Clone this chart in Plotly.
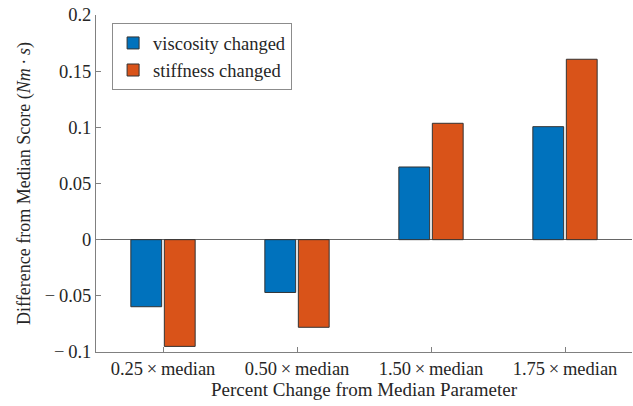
import plotly.graph_objects as go

categories = ["0.25\u2009×\u2009median", "0.50\u2009×\u2009median", "1.50\u2009×\u2009median", "1.75\u2009×\u2009median"]
viscosity = [-0.0597, -0.047, 0.0647, 0.1006]
stiffness = [-0.095, -0.078, 0.1036, 0.1606]
y_ticks = [-0.1, -0.05, 0, 0.05, 0.1, 0.15, 0.2]
y_tick_text = ["\u2212\u20090.1", "\u2212\u20090.05", "0", "0.05", "0.1", "0.15", "0.2"]

xpos = [1, 2, 3, 4]
FF = "Liberation Serif"
TXT = "#262626"
TS = 18.5

fig = go.Figure()
fig.add_trace(go.Bar(x=xpos, y=viscosity, name="viscosity changed",
                     marker=dict(color="#0072BD", line=dict(color="#333333", width=1))))
fig.add_trace(go.Bar(x=xpos, y=stiffness, name="stiffness changed",
                     marker=dict(color="#D95319", line=dict(color="#333333", width=1))))

fig.update_layout(
    width=633, height=406,
    margin=dict(l=96, r=1, t=15, b=54, autoexpand=False),
    paper_bgcolor="white", plot_bgcolor="white",
    font=dict(family=FF, size=TS, color=TXT),
    barmode="group", bargap=0.5, bargroupgap=0.08,
    showlegend=True,
    legend=dict(x=0.03, y=0.975, xanchor="left", yanchor="top",
                bordercolor="#8c8c8c", borderwidth=1, bgcolor="white",
                font=dict(family=FF, size=TS, color=TXT),
                tracegroupgap=0, itemwidth=30),
    xaxis=dict(range=[0.5, 4.5], tickvals=xpos, ticktext=categories,
               showline=True, linecolor="#808080", linewidth=1,
               ticks="inside", ticklen=5, tickcolor="#808080",
               showgrid=False, zeroline=False, mirror=False, automargin=False,
               title=dict(text="Percent Change from Median Parameter", standoff=2,
                          font=dict(family=FF, size=19, color=TXT)),
               tickfont=dict(family=FF, size=TS, color=TXT)),
    yaxis=dict(range=[-0.1, 0.2], tickvals=y_ticks, ticktext=y_tick_text,
               showline=True, linecolor="#808080", linewidth=1,
               ticks="inside", ticklen=5, tickcolor="#808080",
               showgrid=False, zeroline=True, zerolinecolor="#666666", zerolinewidth=1,
               automargin=False,
               title=dict(text="Difference from Median Score (<i>Nm</i>\u2009·\u2009<i>s</i>)", standoff=9,
                          font=dict(family=FF, size=18, color=TXT)),
               tickfont=dict(family=FF, size=TS, color=TXT)),
)

fig.write_html("out.html", config={"displayModeBar": False},
               post_script=["document.body.style.margin='0';document.body.style.overflow='hidden';"])
